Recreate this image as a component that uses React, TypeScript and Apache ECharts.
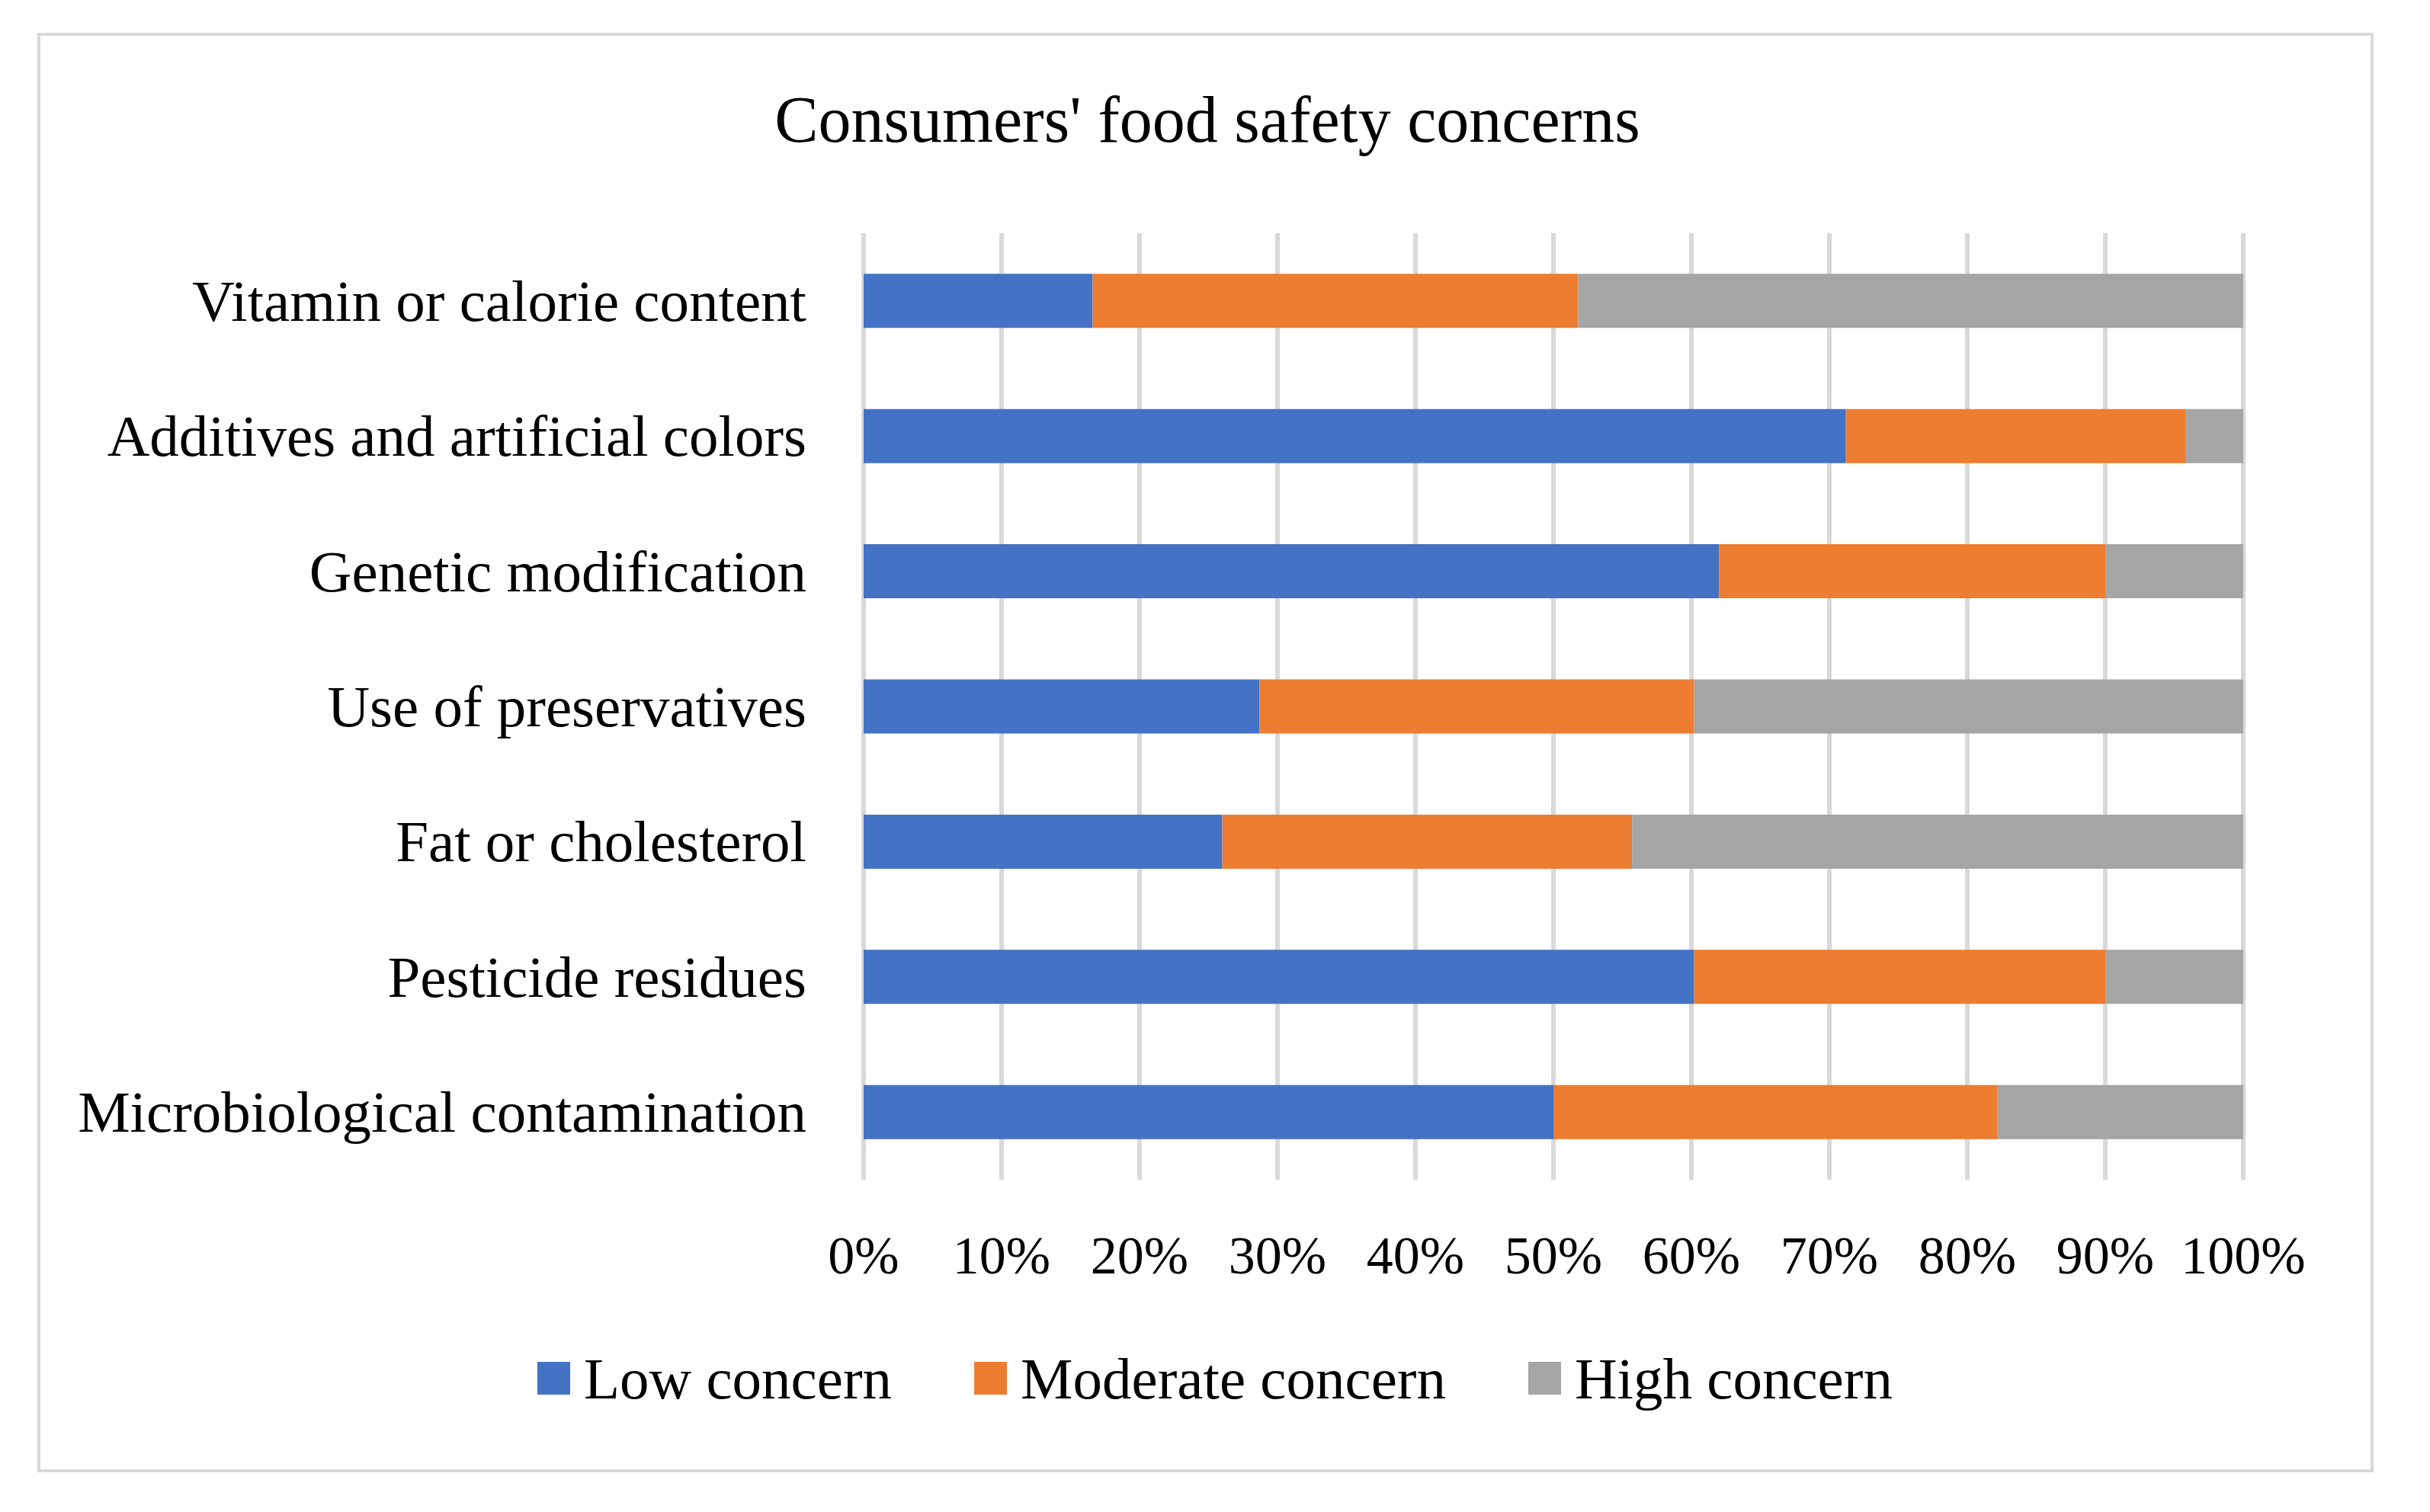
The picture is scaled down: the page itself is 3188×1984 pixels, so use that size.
import React, { useEffect, useRef } from "react";
import * as echarts from "echarts";

const categories = [
  "Vitamin or calorie content",
  "Additives and artificial colors",
  "Genetic modification",
  "Use of preservatives",
  "Fat or cholesterol",
  "Pesticide residues",
  "Microbiological contamination",
];
const lowConcern = [16.6, 71.2, 62.0, 28.7, 26.0, 60.2, 50.0];
const moderateConcern = [35.2, 24.6, 28.0, 31.5, 29.7, 29.8, 32.2];
const highConcern = [48.2, 4.2, 10.0, 39.8, 44.3, 10.0, 17.8];
const seriesNames = ["Low concern", "Moderate concern", "High concern"];
const colors = ["#4472C4", "#ED7D31", "#A5A5A5"];
const titleText = "Consumers' food safety concerns";

const FONT = "'Liberation Serif', 'Times New Roman', serif";

export default function App() {
  const ref = useRef<HTMLDivElement>(null);
  useEffect(() => {
    document.body.style.margin = "0";
    const chart = echarts.init(ref.current!, null, { renderer: "svg" });
    const data = [lowConcern, moderateConcern, highConcern];
    chart.setOption({
      animation: false,
      backgroundColor: "#ffffff",
      textStyle: { fontFamily: FONT },
      graphic: [
        {
          type: "rect",
          z: -10,
          shape: { x: 51, y: 45, width: 3061, height: 1885 },
          style: { fill: "none", stroke: "#D9D9D9", lineWidth: 4 },
        },
        {
          type: "text",
          x: 1584,
          y: 157,
          style: {
            text: titleText,
            fontFamily: FONT,
            fontSize: 86,
            fill: "#000000",
            textAlign: "center",
            textVerticalAlign: "middle",
          },
        },
      ],
      legend: {
        left: 705,
        top: 1770,
        padding: 0,
        itemWidth: 43,
        itemHeight: 43,
        itemGap: 108,
        icon: "rect",
        data: seriesNames,
        textStyle: {
          fontFamily: FONT,
          fontSize: 77,
          color: "#000000",
          padding: [0, 0, 0, 13],
        },
      },
      grid: { left: 1133, right: 245, top: 306, bottom: 436, containLabel: false },
      xAxis: {
        type: "value",
        min: 0,
        max: 100,
        interval: 10,
        axisLine: { show: false },
        axisTick: { show: false },
        axisLabel: {
          formatter: "{value}%",
          fontFamily: FONT,
          fontSize: 70,
          color: "#000000",
          margin: 64,
        },
        splitLine: { show: true, lineStyle: { color: "#D9D9D9", width: 6 } },
      },
      yAxis: {
        type: "category",
        inverse: true,
        data: categories,
        axisLine: { show: false },
        axisTick: { show: false },
        axisLabel: {
          fontFamily: FONT,
          fontSize: 77,
          color: "#000000",
          margin: 75,
          padding: [0, 0, 8, 0],
        },
      },
      series: seriesNames.map((name, i) => ({
        name,
        type: "bar",
        stack: "total",
        barWidth: 71,
        itemStyle: { color: colors[i] },
        data: data[i],
      })),
    });
    return () => chart.dispose();
  }, []);
  return (
    <div
      ref={ref}
      style={{ position: "fixed", left: 0, top: 0, width: 3188, height: 1984 }}
    />
  );
}
